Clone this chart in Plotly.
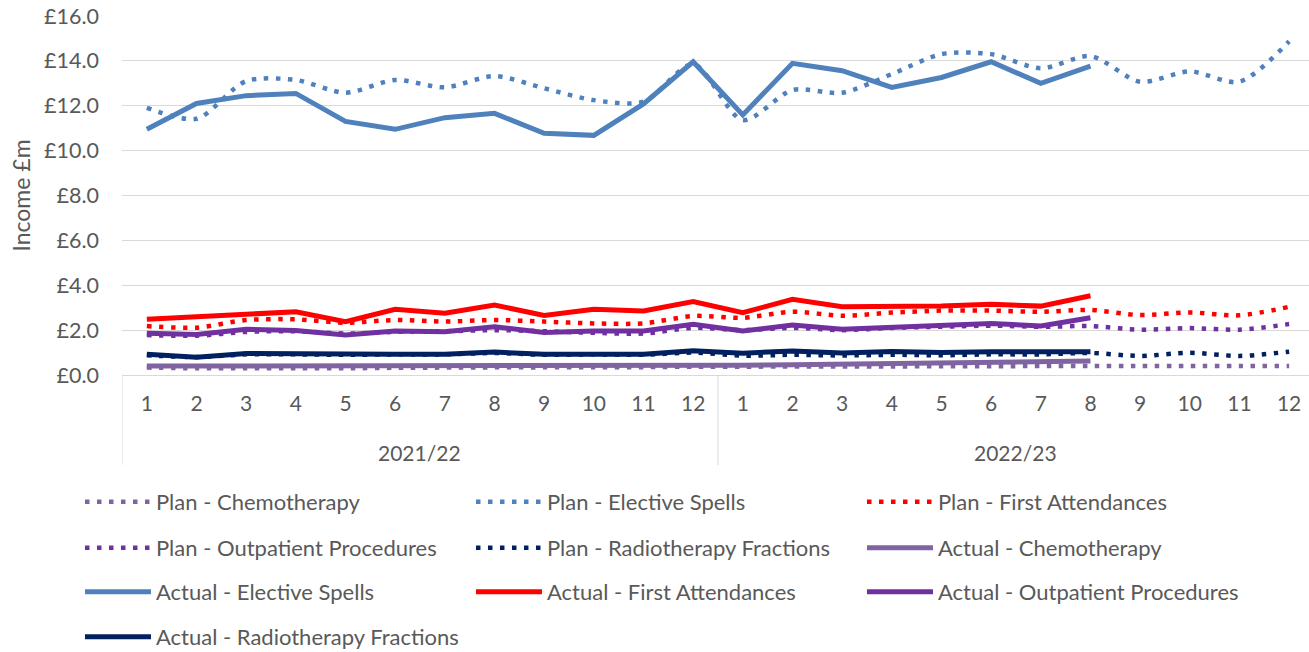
import plotly.graph_objects as go

months = [str(m) for m in range(1, 13)] * 2
years = ["2021/22"] * 12 + ["2022/23"] * 12
year_names = ["2021/22", "2022/23"]

plan_chemo = [0.33, 0.30, 0.30, 0.30, 0.30, 0.32, 0.33, 0.34, 0.34, 0.35, 0.35, 0.37,
              0.37, 0.38, 0.38, 0.38, 0.39, 0.39, 0.40, 0.40, 0.40, 0.40, 0.40, 0.40]
plan_elective = [11.91, 11.42, 13.10, 13.15, 12.58, 13.15, 12.82, 13.32, 12.78, 12.25, 12.18, 13.85,
                 11.36, 12.70, 12.58, 13.41, 14.30, 14.30, 13.67, 14.21, 13.07, 13.53, 13.07, 14.87]
plan_first = [2.18, 2.11, 2.45, 2.48, 2.33, 2.45, 2.38, 2.45, 2.38, 2.30, 2.30, 2.63,
              2.55, 2.82, 2.64, 2.78, 2.87, 2.87, 2.82, 2.90, 2.67, 2.79, 2.66, 3.04]
plan_outpat = [1.78, 1.75, 1.92, 1.95, 1.85, 1.92, 1.95, 2.00, 1.95, 1.88, 1.85, 2.10,
               2.00, 2.10, 2.00, 2.10, 2.15, 2.20, 2.15, 2.18, 2.02, 2.09, 2.02, 2.27]
plan_radio = [0.88, 0.80, 0.92, 0.92, 0.90, 0.92, 0.92, 0.98, 0.90, 0.92, 0.90, 1.00,
              0.86, 0.90, 0.87, 0.90, 0.88, 0.92, 0.92, 0.98, 0.85, 0.99, 0.85, 1.04]

actual_chemo = [0.40] * 12 + [0.43, 0.46, 0.48, 0.51, 0.54, 0.56, 0.59, 0.62] + [None] * 4
actual_elective = [10.95, 12.10, 12.45, 12.55, 11.30, 10.95, 11.47, 11.66, 10.77, 10.68, 12.08, 13.96,
                   11.59, 13.89, 13.56, 12.82, 13.26, 13.96, 13.00, 13.77] + [None] * 4
actual_first = [2.48, 2.60, 2.75, 2.82, 2.38, 2.93, 2.75, 3.12, 2.65, 2.93, 2.85, 3.27,
                2.78, 3.37, 3.04, 3.04, 3.07, 3.15, 3.07, 3.53] + [None] * 4
actual_outpat = [1.86, 1.81, 2.04, 1.98, 1.78, 1.96, 1.93, 2.15, 1.89, 1.96, 1.96, 2.26,
                 1.96, 2.23, 2.04, 2.11, 2.18, 2.30, 2.18, 2.55] + [None] * 4
actual_radio = [0.92, 0.79, 0.96, 0.93, 0.92, 0.92, 0.93, 1.02, 0.93, 0.92, 0.93, 1.08,
                0.97, 1.07, 0.98, 1.05, 1.00, 1.04, 1.04, 1.04] + [None] * 4

C_CHEMO = "#8064A2"
C_ELECT = "#4F81BD"
C_FIRST = "#FF0000"
C_OUTP = "#7030A0"
C_RADIO = "#002060"
TXT = "#595959"
GRID = "#D9D9D9"
FONT = "Lato"

DOT = "4.5px,7.5px"

series = [
    ("Plan - Chemotherapy", plan_chemo, C_CHEMO, True, "legend"),
    ("Plan - Elective Spells", plan_elective, C_ELECT, True, "legend"),
    ("Plan - First Attendances", plan_first, C_FIRST, True, "legend"),
    ("Plan - Outpatient Procedures", plan_outpat, C_OUTP, True, "legend2"),
    ("Plan - Radiotherapy Fractions", plan_radio, C_RADIO, True, "legend2"),
    ("Actual - Chemotherapy", actual_chemo, C_CHEMO, False, "legend2"),
    ("Actual - Elective Spells", actual_elective, C_ELECT, False, "legend3"),
    ("Actual - First Attendances", actual_first, C_FIRST, False, "legend3"),
    ("Actual - Outpatient Procedures", actual_outpat, C_OUTP, False, "legend3"),
    ("Actual - Radiotherapy Fractions", actual_radio, C_RADIO, False, "legend4"),
]

xpos = list(range(len(months)))

fig = go.Figure()
for name, vals, col, is_plan, leg in series:
    if is_plan:
        line = dict(color=col, width=4.5, dash=DOT, shape="spline", smoothing=0.8)
    else:
        line = dict(color=col, width=5)
    fig.add_trace(go.Scatter(
        x=xpos, y=vals, name=name, mode="lines", line=line,
        legend=leg, connectgaps=False, hoverinfo="skip",
    ))

# year group labels and dividers
bottom = -0.2507
for yn in year_names:
    idx = [i for i, y in enumerate(years) if y == yn]
    mid = (idx[0] + idx[-1]) / 2
    fig.add_annotation(x=mid, y=-0.2145, xref="x", yref="paper", text=yn, showarrow=False,
                       yanchor="middle", font=dict(family=FONT, size=21, color=TXT))
bounds = [-0.5] + [i + 0.5 for i in range(len(years) - 1) if years[i] != years[i + 1]] + [len(years) - 0.5]
for b in bounds:
    fig.add_shape(type="line", x0=b, x1=b, y0=0, y1=bottom, xref="x", yref="paper",
                  line=dict(color=GRID, width=1))

leg_common = dict(
    orientation="h", xref="container", yref="container", x=0.0611, xanchor="left",
    yanchor="middle", font=dict(family=FONT, size=22, color=TXT),
    entrywidth=310, entrywidthmode="pixels", itemwidth=66, bgcolor="rgba(0,0,0,0)",
    traceorder="normal",
)

fig.update_layout(
    width=1309, height=652,
    margin=dict(l=122, r=0, t=16, b=277),
    plot_bgcolor="white", paper_bgcolor="white",
    font=dict(family=FONT, size=20, color=TXT),
    showlegend=True,
    legend=dict(leg_common, y=1 - 502 / 652),
    legend2=dict(leg_common, y=1 - 548 / 652),
    legend3=dict(leg_common, y=1 - 592 / 652),
    legend4=dict(leg_common, y=1 - 637 / 652),
    xaxis=dict(
        range=[-0.5, len(months) - 0.6], tickvals=xpos, ticktext=months,
        showgrid=False, showline=True, linecolor=GRID, linewidth=1, zeroline=False,
        tickfont=dict(family=FONT, size=21, color=TXT), ticks="", ticklabelstandoff=10,
    ),
    yaxis=dict(
        range=[0, 16], dtick=2, tickprefix="£", tickformat=".1f",
        showgrid=True, gridcolor=GRID, gridwidth=1, zeroline=False,
        tickfont=dict(family=FONT, size=21.5, color=TXT),
        title=dict(text="Income £m", font=dict(family=FONT, size=23, color=TXT), standoff=6),
        ticks="", ticklabelstandoff=22,
    ),
)

fig.write_html("out.html")
